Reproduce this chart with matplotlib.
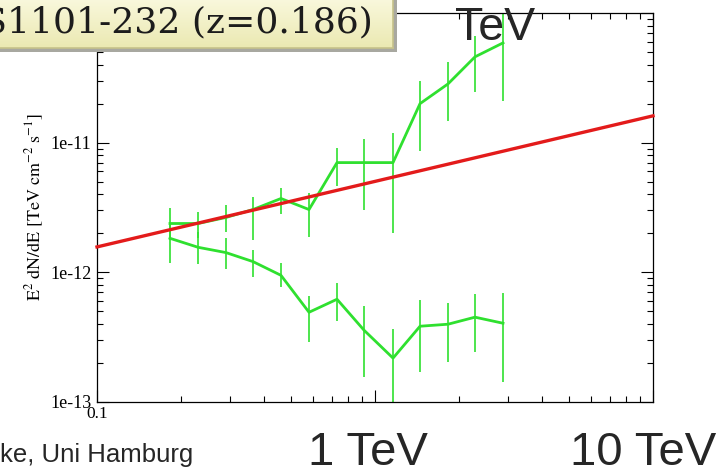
"""
E^2 dN/dE spectrum of 1ES1101-232 with power-law reference line
"""

import numpy as np
import matplotlib.pyplot as plt
from matplotlib.colors import LinearSegmentedColormap
from matplotlib.patches import Rectangle
from matplotlib.ticker import NullFormatter, LogLocator

plt.rcParams['mathtext.fontset'] = 'stix'

# Bin centres (TeV)
energy = [0.183, 0.231, 0.291, 0.364, 0.459, 0.579, 0.730, 0.913,
          1.161, 1.452, 1.831, 2.289, 2.887]

# Upper spectrum and its error range
upper_flux = [2.38e-12, 2.38e-12, 2.65e-12, 3.05e-12, 3.71e-12, 3.05e-12, 7.02e-12,
              7.02e-12, 7.02e-12, 2.00e-11, 2.84e-11, 4.59e-11, 5.88e-11]
upper_hi = [3.16e-12, 2.94e-12, 3.28e-12, 3.78e-12, 4.51e-12, 4.12e-12, 9.15e-12,
            1.07e-11, 1.19e-11, 3.00e-11, 4.20e-11, 6.65e-11, 1.10e-10]
upper_lo = [1.76e-12, 1.83e-12, 2.03e-12, 1.76e-12, 2.84e-12, 1.86e-12, 4.67e-12,
            3.00e-12, 2.00e-12, 8.68e-12, 1.48e-11, 2.47e-11, 2.10e-11]

# Lower spectrum and its error range
lower_flux = [1.83e-12, 1.56e-12, 1.42e-12, 1.21e-12, 9.48e-13, 4.92e-13, 6.20e-13,
              3.58e-13, 2.18e-13, 3.84e-13, 3.98e-13, 4.51e-13, 4.05e-13]
lower_hi = [2.43e-12, 2.03e-12, 1.83e-12, 1.48e-12, 1.19e-12, 6.54e-13, 8.23e-13,
            5.48e-13, 3.64e-13, 6.09e-13, 5.78e-13, 6.78e-13, 6.90e-13]
lower_lo = [1.17e-12, 1.15e-12, 1.07e-12, 9.15e-13, 7.67e-13, 2.90e-13, 4.20e-13,
            1.56e-13, 9.50e-14, 1.70e-13, 2.03e-13, 2.43e-13, 1.43e-13]

# Power-law reference line end points
pl_energy = [0.1, 10.0]
pl_flux = [1.57e-12, 1.61e-11]

GREEN = '#2fe02f'
RED = '#e31b1b'
W, H = 722, 470

fig = plt.figure(figsize=(W / 100, H / 100), dpi=100)
ax = fig.add_axes([97 / W, 1 - 402 / H, 556 / W, 389 / H])
ax.set_xscale('log')
ax.set_yscale('log')
ax.set_xlim(0.1, 10)
ax.set_ylim(1e-13, 1e-10)

ax.vlines(energy, upper_lo, upper_hi, color=GREEN, linewidth=1.2)
ax.vlines(energy, lower_lo, lower_hi, color=GREEN, linewidth=1.2)
ax.plot(energy, upper_flux, color=GREEN, linewidth=2)
ax.plot(energy, lower_flux, color=GREEN, linewidth=2)
ax.plot(pl_energy, pl_flux, color=RED, linewidth=2.4, clip_on=False, zorder=4)

# ROOT-like frame: inward ticks on all four sides
for s in ax.spines.values():
    s.set_linewidth(0.9)
ax.tick_params(which='both', direction='in', top=True, right=True, width=0.8)
ax.tick_params(which='major', length=8.5)
ax.tick_params(which='minor', length=4.5)
ax.set_xticks([0.1, 1, 10])
ax.set_xticklabels(['0.1', '', ''], family='Liberation Serif', fontsize=12.5)
ax.set_yticks([1e-13, 1e-12, 1e-11, 1e-10])
ax.set_yticklabels(['1e-13', '1e-12', '1e-11', '1e-10'], family='Liberation Serif', fontsize=13)
ax.xaxis.set_minor_locator(LogLocator(base=10, subs=np.arange(2, 10)))
ax.yaxis.set_minor_locator(LogLocator(base=10, subs=np.arange(2, 10)))
ax.xaxis.set_minor_formatter(NullFormatter())
ax.yaxis.set_minor_formatter(NullFormatter())
ax.tick_params(axis='x', pad=3)
ax.tick_params(axis='y', pad=4)

fig.text(35 / W, 1 - 207 / H, r'$\mathrm{E^{2}\ dN/dE\ [TeV\ cm^{-2}\ s^{-1}]}$',
         rotation=90, ha='center', va='center', fontsize=13)

# Title box with shadow and soft yellow gradient
fig.add_artist(Rectangle((-1 / W, 1 - 52 / H), 398 / W, 60 / H,
                         transform=fig.transFigure, facecolor='#a8a8a0',
                         edgecolor='none', zorder=9))
bax = fig.add_axes([-5 / W, 1 - 48 / H, 398 / W, 56 / H], zorder=10)
grad = np.linspace(0, 1, 64).reshape(-1, 1)
cmap = LinearSegmentedColormap.from_list('box', ['#fbfae2', '#ebe9b2'])
bax.imshow(grad, aspect='auto', cmap=cmap, extent=[0, 1, 0, 1])
bax.set_xticks([])
bax.set_yticks([])
for s in bax.spines.values():
    s.set_color('#c6c28a')
    s.set_linewidth(1.2)
bax.text(378 / 398, 16 / 56, '1ES1101-232 (z=0.186)', transform=bax.transAxes,
         ha='right', va='baseline', family='DejaVu Serif', fontsize=26,
         color='#1c1c1c')

fig.text(455 / W, 1 - 40 / H, 'TeV', ha='left', va='baseline',
         family='Liberation Sans', fontsize=33.5, color='#262626', zorder=11)
fig.text(308 / W, 1 - 465 / H, '1 TeV', ha='left', va='baseline',
         family='Liberation Sans', fontsize=34, color='#262626')
fig.text(570 / W, 1 - 465 / H, '10 TeV', ha='left', va='baseline',
         family='Liberation Sans', fontsize=34, color='#262626')
fig.text(0 / W, 1 - 462 / H, 'ke, Uni Hamburg', ha='left', va='baseline',
         family='Liberation Sans', fontsize=18.5, color='#262626')

fig.savefig('out.png', dpi=100)
